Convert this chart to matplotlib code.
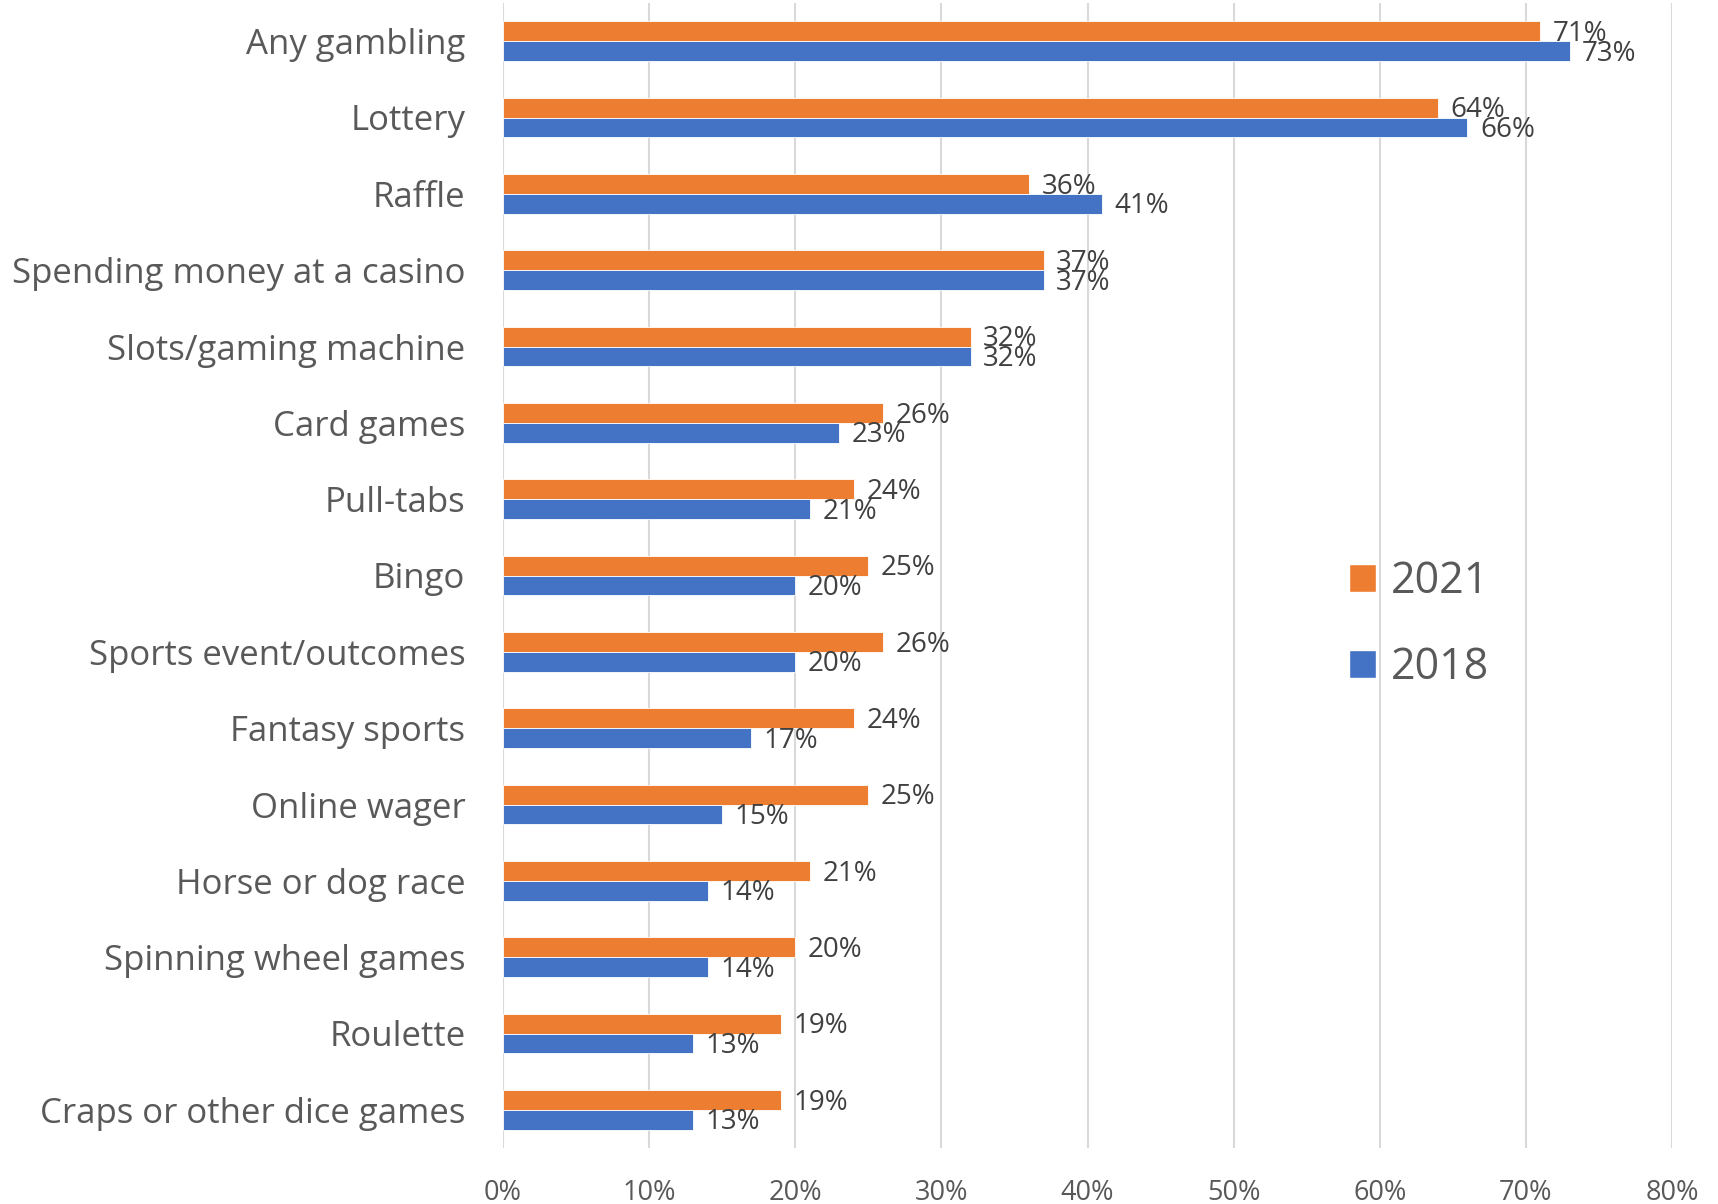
import matplotlib
matplotlib.use("Agg")
import matplotlib.pyplot as plt
import numpy as np
from matplotlib.patches import Patch

categories = ["Any gambling", "Lottery", "Raffle", "Spending money at a casino",
              "Slots/gaming machine", "Card games", "Pull-tabs", "Bingo",
              "Sports event/outcomes", "Fantasy sports", "Online wager",
              "Horse or dog race", "Spinning wheel games", "Roulette",
              "Craps or other dice games"]
values_2021 = [71, 64, 36, 37, 32, 26, 24, 25, 26, 24, 25, 21, 20, 19, 19]
values_2018 = [73, 66, 41, 37, 32, 23, 21, 20, 20, 17, 15, 14, 14, 13, 13]
x_ticks = [0, 10, 20, 30, 40, 50, 60, 70, 80]
x_tick_labels = ["0%", "10%", "20%", "30%", "40%", "50%", "60%", "70%", "80%"]

plt.rcParams['font.family'] = ['Open Sans', 'DejaVu Sans']
ORANGE = "#ED7D31"
BLUE = "#4472C4"
TXT = "#595959"

fig = plt.figure(figsize=(17.18, 12.04), dpi=100)
ax = fig.add_axes([503/1718, 1 - 1148/1204, (1672-503)/1718, (1148-3)/1204])

y = np.arange(len(categories))
h = 0.258
ax.barh(y - h/2, values_2021, height=h, color=ORANGE, edgecolor="white", linewidth=0.6, zorder=3, label="2021")
ax.barh(y + h/2, values_2018, height=h, color=BLUE, edgecolor="white", linewidth=0.6, zorder=3, label="2018")

for yi, v in zip(y, values_2021):
    ax.annotate(f"{v}%", (v, yi - h/2), xytext=(9, -2), textcoords="offset points",
                ha="left", va="center", fontsize=20, color="#404040", zorder=4)
for yi, v in zip(y, values_2018):
    ax.annotate(f"{v}%", (v, yi + h/2), xytext=(9, -2), textcoords="offset points",
                ha="left", va="center", fontsize=20, color="#404040", zorder=4)

ax.set_ylim(len(categories) - 0.5, -0.5)
ax.set_xlim(0, 80)
ax.set_yticks(y)
ax.set_yticklabels(categories, fontsize=25, color=TXT)
ax.set_xticks(x_ticks)
ax.set_xticklabels(x_tick_labels, fontsize=19.5, color=TXT)
ax.tick_params(axis="both", length=0)
ax.tick_params(axis="y", pad=27)
ax.tick_params(axis="x", pad=22)
ax.grid(axis="x", color="#D9D9D9", linewidth=1.5, zorder=0)
for s in ax.spines.values():
    s.set_visible(False)

handles = [Patch(facecolor=ORANGE, edgecolor="white", label="2021"),
           Patch(facecolor=BLUE, edgecolor="white", label="2018")]
fig.legend(handles=handles, loc="upper left", bbox_to_anchor=(1349/1718, 1 - 560/1204),
           frameon=False, fontsize=31, labelcolor=TXT, handlelength=0.62, handleheight=0.62,
           handletextpad=0.35, labelspacing=0.95, borderpad=0, borderaxespad=0)

fig.savefig("out.png", dpi=100, facecolor="white")
